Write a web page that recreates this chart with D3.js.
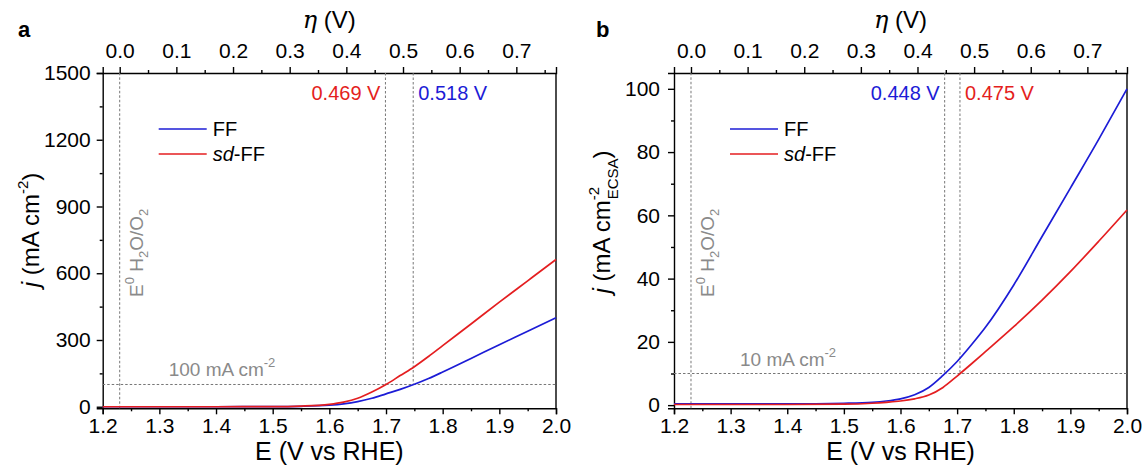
<!DOCTYPE html>
<html>
<head>
<meta charset="utf-8">
<script src="https://cdn.jsdelivr.net/npm/d3@7"></script>
<style>
    body { margin: 0; background: #fff; }
    svg text { font-family: "Liberation Sans", Arial, sans-serif; }
</style>
</head>
<body>
<div id="chart"></div>
<script>

// ---- data ----
// panel a: geometric current density (mA cm-2)
const potentialA = [1.2, 1.3, 1.4, 1.5, 1.55, 1.6, 1.625, 1.65, 1.675, 1.7, 1.725, 1.75, 1.775, 1.8, 1.85, 1.9, 1.95, 2.0];
const ffA        = [0, 0, 0, 0.5, 2, 7, 13, 23, 38, 58, 78, 101, 127, 156, 217, 279, 339, 400];
const sdffA      = [0, 0, 0, 0.5, 3, 11, 21, 38, 66, 100, 140, 180, 226, 275, 372, 470, 566, 662];

// panel b: ECSA-normalised current density (mA cm-2 ECSA)
const potentialB = [1.2, 1.3, 1.4, 1.5, 1.55, 1.575, 1.6, 1.625, 1.65, 1.675, 1.7, 1.725, 1.75, 1.8, 1.85, 1.9, 1.95, 2.0];
const ffB        = [0.4, 0.4, 0.4, 0.6, 0.9, 1.3, 2.0, 3.3, 5.6, 9.4, 13.8, 19.0, 24.6, 38.0, 53.3, 68.6, 84.0, 100.0];
const sdffB      = [0.2, 0.2, 0.2, 0.3, 0.6, 0.9, 1.3, 2.0, 3.2, 5.6, 9.2, 13.0, 16.9, 24.8, 33.2, 42.2, 51.8, 61.7];

const etaTicks = [0.0, 0.1, 0.2, 0.3, 0.4, 0.5, 0.6, 0.7];
const eTicks = [1.2, 1.3, 1.4, 1.5, 1.6, 1.7, 1.8, 1.9, 2.0];
const jTicksA = [0, 300, 600, 900, 1200, 1500];
const jTicksB = [0, 20, 40, 60, 80, 100];

const E0 = 1.23;

const overpotA = [{label: "0.469 V", eta: 0.469, series: "sd"}, {label: "0.518 V", eta: 0.518, series: "ff"}];
const overpotB = [{label: "0.448 V", eta: 0.448, series: "ff"}, {label: "0.475 V", eta: 0.475, series: "sd"}];

const BLUE = "#1c1cd6";
const RED = "#e41e20";
const GRAY = "#8a8a8a";
const DASH = "#777";

const svg = d3.select("#chart").append("svg")
    .attr("width", 1146)
    .attr("height", 467);

function drawPanel(p) {
    let g = svg.append("g");

    let x = d3.scaleLinear().domain([1.2, 2.0]).range([p.left, p.right]);
    let eta = d3.scaleLinear().domain([1.2 - E0, 2.0 - E0]).range([p.left, p.right]);
    let y = d3.scaleLinear().domain(p.yDomain).range([408.3, 73]);

    // minor ticks
    let minorE = d3.range(1.25, 2.0, 0.1);
    let minorEta = d3.range(0.05, 0.77, 0.1);

    // bottom axis
    g.append("g")
        .attr("transform", `translate(0,${y.range()[0]})`)
        .call(d3.axisBottom(x).tickValues(eTicks).tickFormat(d3.format(".1f")).tickSizeOuter(0).tickSize(6).tickPadding(4))
        .call(a => a.selectAll("text").attr("font-size", 21).attr("fill", "#000"));
    g.append("g")
        .attr("transform", `translate(0,${y.range()[0]})`)
        .call(d3.axisBottom(x).tickValues(minorE).tickFormat("").tickSizeOuter(0).tickSize(3))
        .call(a => a.select(".domain").remove());

    // top axis (overpotential)
    g.append("g")
        .attr("transform", `translate(0,${y.range()[1]})`)
        .call(d3.axisTop(eta).tickValues(etaTicks).tickFormat(d3.format(".1f")).tickSizeOuter(0).tickSize(6).tickPadding(9))
        .call(a => a.selectAll("text").attr("font-size", 21).attr("fill", "#000"));
    g.append("g")
        .attr("transform", `translate(0,${y.range()[1]})`)
        .call(d3.axisTop(eta).tickValues(minorEta).tickFormat("").tickSizeOuter(0).tickSize(3))
        .call(a => a.select(".domain").remove());

    // left axis
    g.append("g")
        .attr("transform", `translate(${p.left},0)`)
        .call(d3.axisLeft(y).tickValues(p.yTicks).tickFormat(d3.format("d")).tickSizeOuter(0).tickSize(6).tickPadding(p.yPad))
        .call(a => a.selectAll("text").attr("font-size", 21).attr("fill", "#000"));
    g.append("g")
        .attr("transform", `translate(${p.left},0)`)
        .call(d3.axisLeft(y).tickValues(p.yMinor).tickFormat("").tickSizeOuter(0).tickSize(3))
        .call(a => a.select(".domain").remove());

    // right frame line
    g.append("line")
        .attr("x1", p.right).attr("x2", p.right)
        .attr("y1", y.range()[0]).attr("y2", y.range()[1])
        .attr("stroke", "#000");

    g.selectAll(".domain, .tick line, line").attr("stroke", "#000").attr("stroke-width", 1.4);

    // E0 reference line
    g.append("line")
        .attr("x1", x(E0)).attr("x2", x(E0))
        .attr("y1", y.range()[0]).attr("y2", y.range()[1])
        .attr("stroke", DASH).attr("stroke-width", 1).attr("stroke-dasharray", "2.5,2");

    // horizontal reference current
    g.append("line")
        .attr("x1", p.left).attr("x2", p.right)
        .attr("y1", y(p.refJ)).attr("y2", y(p.refJ))
        .attr("stroke", DASH).attr("stroke-width", 1).attr("stroke-dasharray", "2.5,2");

    // overpotential lines
    g.selectAll(".op-line")
        .data(p.overpot)
        .enter()
        .append("line")
        .attr("class", "op-line")
        .attr("x1", d => eta(d.eta)).attr("x2", d => eta(d.eta))
        .attr("y1", y.range()[1]).attr("y2", y(p.refJ))
        .attr("stroke", DASH).attr("stroke-width", 1).attr("stroke-dasharray", "2.5,2");

    // labels for the overpotentials: first ends before its line, second starts after
    g.append("text")
        .attr("x", eta(p.overpot[0].eta) - 5).attr("y", 100)
        .attr("text-anchor", "end")
        .attr("font-size", 20)
        .attr("fill", p.overpot[0].series === "ff" ? BLUE : RED)
        .text(p.overpot[0].label);
    g.append("text")
        .attr("x", eta(p.overpot[1].eta) + 5).attr("y", 100)
        .attr("font-size", 20)
        .attr("fill", p.overpot[1].series === "ff" ? BLUE : RED)
        .text(p.overpot[1].label);

    // curves
    let line = d3.line()
        .x(d => x(d[0]))
        .y(d => y(d[1]))
        .curve(d3.curveMonotoneX);

    g.append("path")
        .datum(d3.zip(p.potential, p.ff))
        .attr("d", line)
        .attr("fill", "none").attr("stroke", BLUE).attr("stroke-width", 1.7);
    g.append("path")
        .datum(d3.zip(p.potential, p.sdff))
        .attr("d", line)
        .attr("fill", "none").attr("stroke", RED).attr("stroke-width", 1.7);

    // legend
    let lx = p.left + 56;
    [{c: BLUE, y: 129}, {c: RED, y: 154}].forEach(l => {
        g.append("line")
            .attr("x1", lx).attr("x2", lx + 48)
            .attr("y1", l.y).attr("y2", l.y)
            .attr("stroke", l.c).attr("stroke-width", 1.7);
    });
    g.append("text").attr("x", lx + 54).attr("y", 136).attr("font-size", 20).text("FF");
    let t = g.append("text").attr("x", lx + 54).attr("y", 161).attr("font-size", 20);
    t.append("tspan").attr("font-style", "italic").text("sd");
    t.append("tspan").text("-FF");

    // E0 H2O/O2 label
    let e0 = g.append("text")
        .attr("transform", `translate(${x(E0) + 23},297) rotate(-90)`)
        .attr("font-size", 19)
        .attr("fill", GRAY);
    e0.append("tspan").text("E");
    e0.append("tspan").attr("font-size", 13).attr("dy", -9).text("0");
    e0.append("tspan").attr("dy", 9).text(" H");
    e0.append("tspan").attr("font-size", 13).attr("dy", 5).text("2");
    e0.append("tspan").attr("dy", -5).text("O/O");
    e0.append("tspan").attr("font-size", 13).attr("dy", 5).text("2");

    // reference current label
    let rl = g.append("text")
        .attr("x", p.left + p.refDx).attr("y", y(p.refJ) - 8)
        .attr("font-size", 19)
        .attr("fill", GRAY);
    rl.append("tspan").text(p.refLabel);
    rl.append("tspan").attr("font-size", 13).attr("dy", -9).text("-2");

    // axis titles
    g.append("text")
        .attr("x", (p.left + p.right) / 2).attr("y", 460)
        .attr("text-anchor", "middle")
        .attr("font-size", 25)
        .text("E (V vs RHE)");

    let et = g.append("text")
        .attr("x", (p.left + p.right) / 2).attr("y", 28)
        .attr("text-anchor", "middle")
        .attr("font-size", 24);
    et.append("tspan").attr("font-style", "italic").attr("font-family", "DejaVu Serif, serif").text("η");
    et.append("tspan").text(" (V)");

    let yl = g.append("text")
        .attr("transform", `translate(${p.left - 64},${p.yLabelY}) rotate(-90)`)
        .attr("text-anchor", "middle")
        .attr("font-size", 24);
    yl.append("tspan").attr("font-style", "italic").text("j");
    yl.append("tspan").text(" (mA cm");
    yl.append("tspan").attr("font-size", 15).attr("dy", -11).text("-2");
    if (p.ecsa) {
        yl.append("tspan").attr("font-size", 15).attr("dx", -12.5).attr("dy", 19).text("ECSA");
        yl.append("tspan").attr("dy", -8).text(")");
    } else {
        yl.append("tspan").attr("dy", 11).text(")");
    }

    // panel letter
    g.append("text")
        .attr("x", p.letterX).attr("y", 37)
        .attr("font-size", 22).attr("font-weight", "bold")
        .text(p.letter);
}

drawPanel({
    letter: "a", letterX: 18,
    left: 102.7, right: 556,
    yDomain: [-7, 1500], yTicks: jTicksA, yMinor: d3.range(150, 1500, 300), yPad: 6,
    potential: potentialA, ff: ffA, sdff: sdffA,
    refJ: 100, refLabel: "100 mA cm", refDx: 66,
    overpot: overpotA, yLabelY: 230, ecsa: false
});

drawPanel({
    letter: "b", letterX: 596,
    left: 674, right: 1127,
    yDomain: [-1, 105], yTicks: jTicksB, yMinor: d3.range(10, 105, 20), yPad: 8,
    potential: potentialB, ff: ffB, sdff: sdffB,
    refJ: 10, refLabel: "10 mA cm", refDx: 66,
    overpot: overpotB, yLabelY: 222, ecsa: true
});

</script>
</body>
</html>
